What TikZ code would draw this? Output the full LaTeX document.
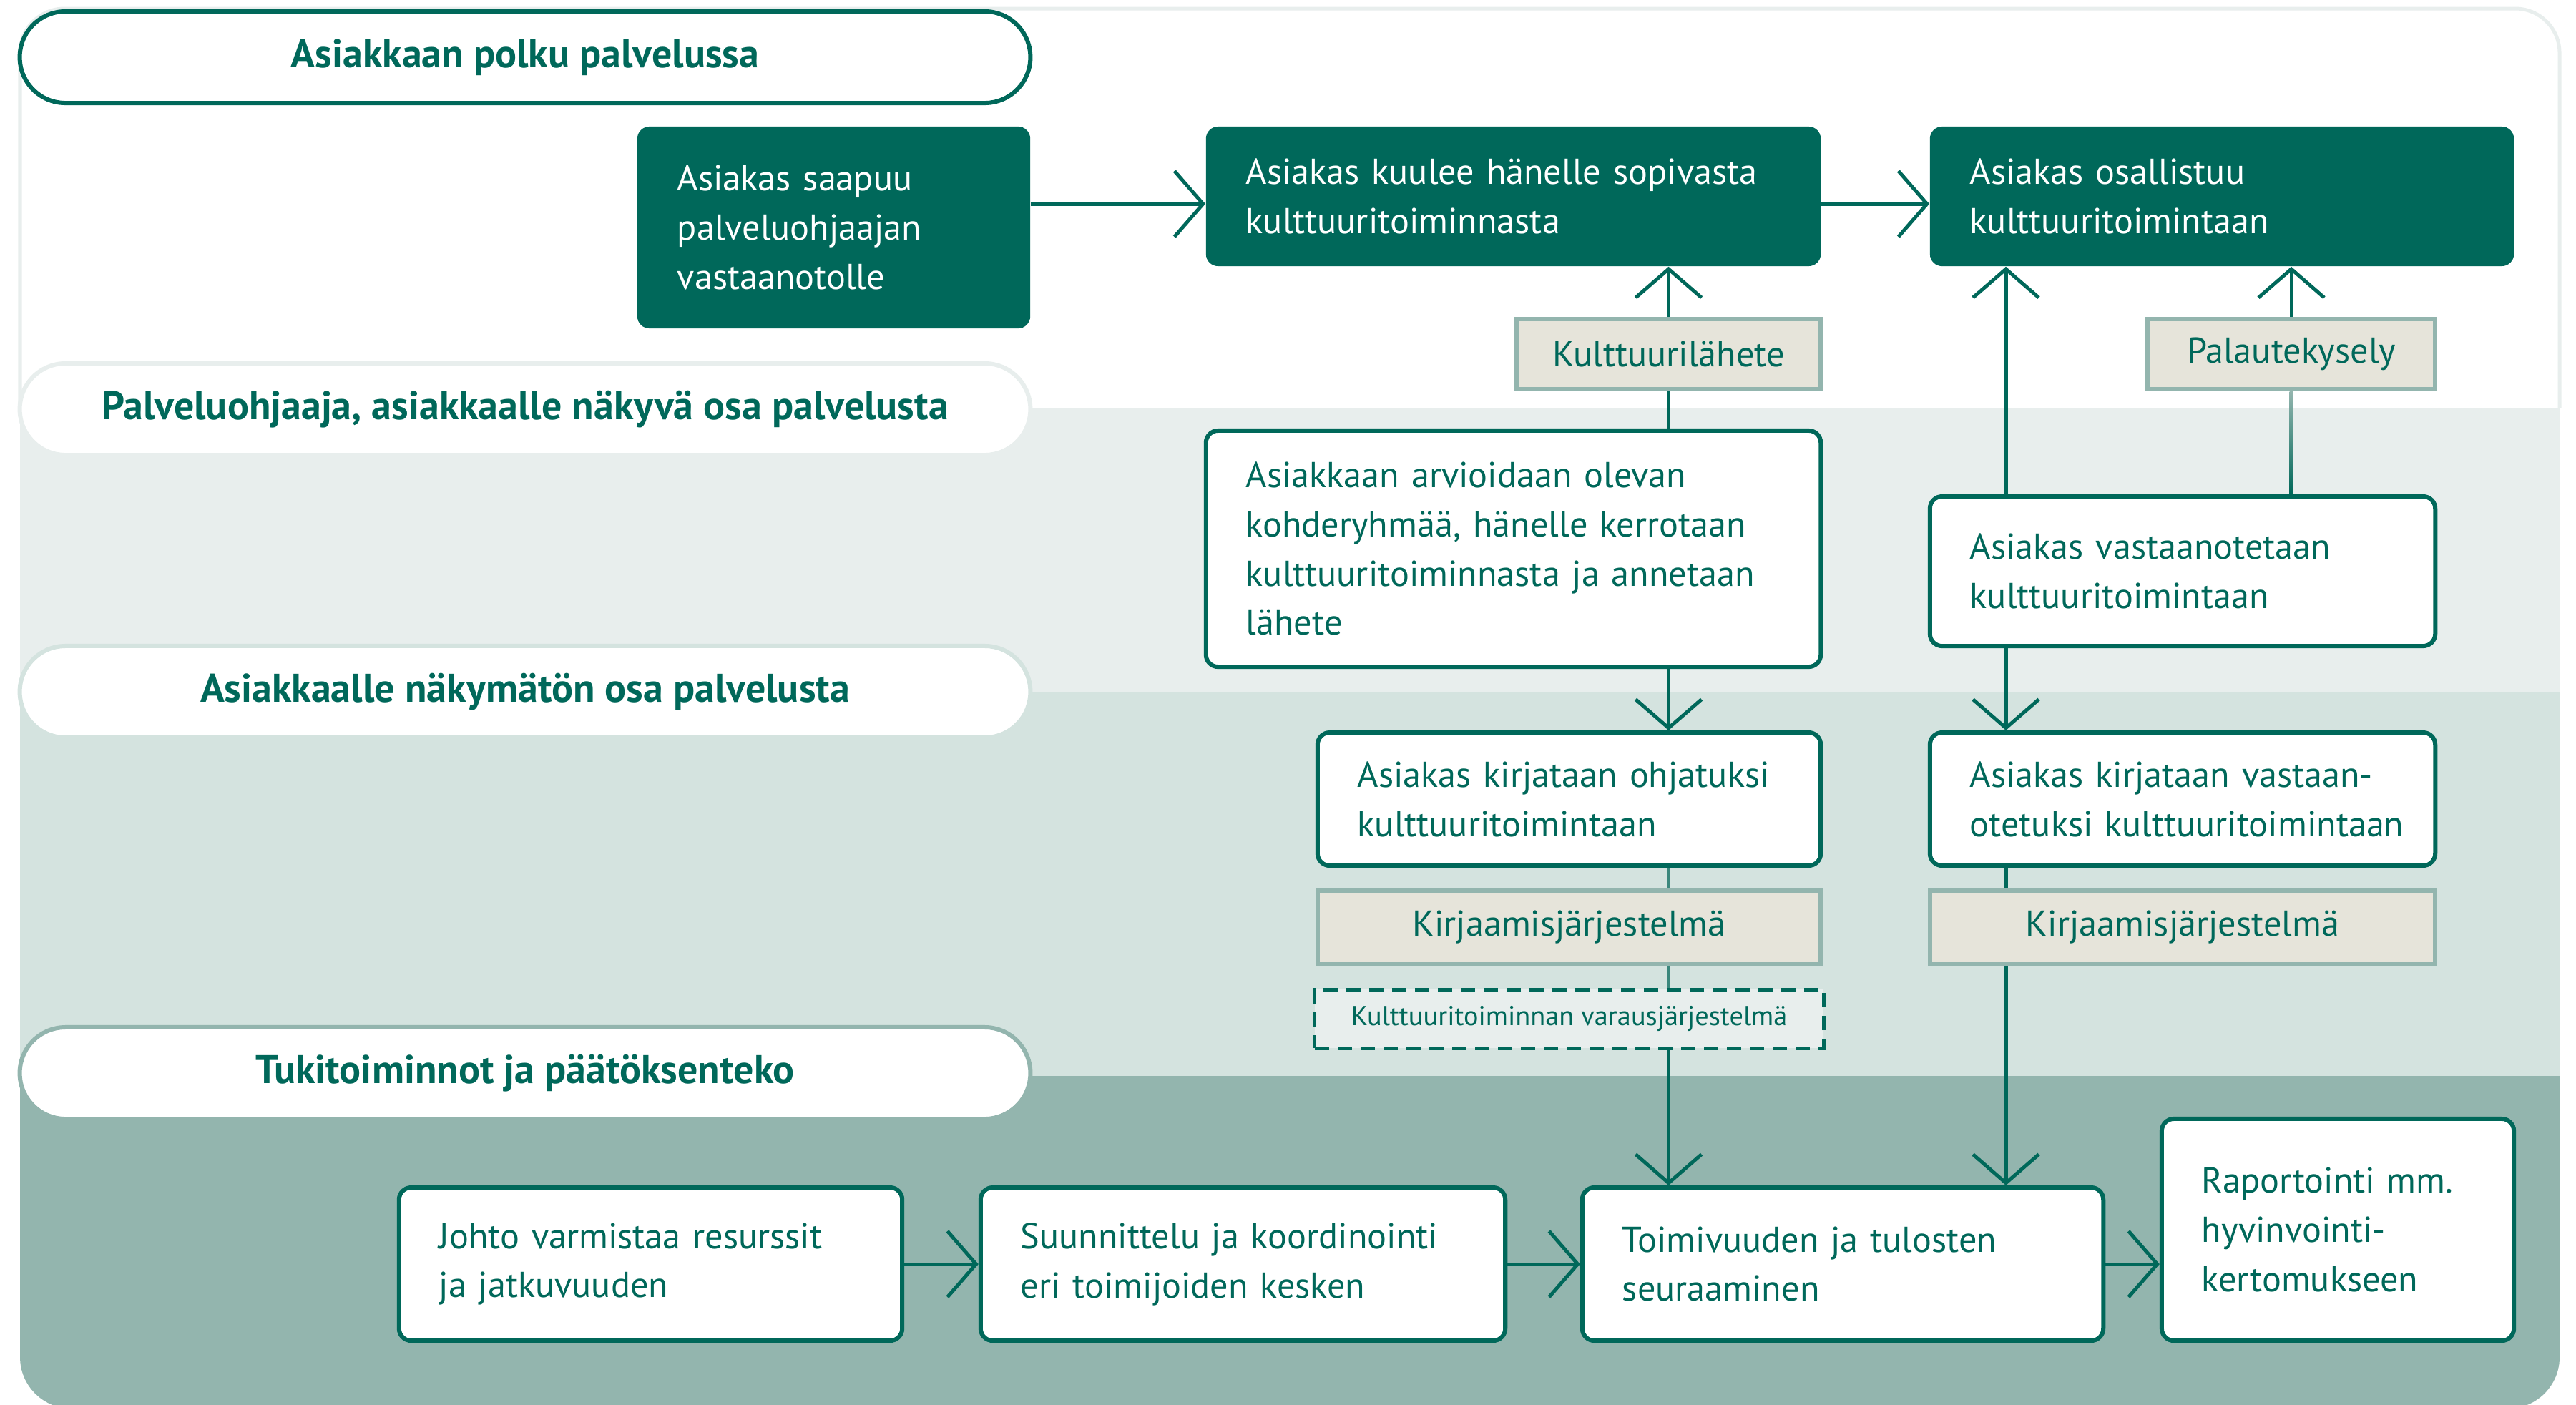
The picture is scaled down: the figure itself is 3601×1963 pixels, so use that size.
\documentclass[tikz,border=0pt]{standalone}
\usepackage{fontspec}
\setmainfont{PT Sans}
\usetikzlibrary{arrows.meta,shapes.misc}
\definecolor{dk}{HTML}{00685A}
\definecolor{bandA}{HTML}{E8EEED}
\definecolor{bandB}{HTML}{D4E3DF}
\definecolor{bandC}{HTML}{93B5AE}
\definecolor{beige}{HTML}{E6E4DA}
\newcommand\bodyf{\fontsize{14.3}{19.6}\selectfont}
\newcommand\headf{\bfseries\fontsize{15.9}{18}\selectfont}
\newcommand\smallf{\fontsize{10.9}{13}\selectfont}
\begin{document}
\begin{tikzpicture}[x=0.01cm,y=-0.01cm,
  darkbox/.style={fill=dk,text=white,rounded corners=0.17cm,inner xsep=0.56cm,inner ysep=0pt,align=left,font=\bodyf},
  wbox/.style={draw=dk,line width=0.06cm,fill=white,text=dk,rounded corners=0.17cm,inner xsep=0.56cm,inner ysep=0pt,align=left,font=\bodyf},
  lbl/.style={draw=bandC,line width=0.06cm,fill=beige,text=dk,inner sep=0pt,align=center,font=\bodyf},
  dsh/.style={draw=dk,dash pattern=on 0.2cm off 0.12cm,line width=0.05cm,fill=bandA,text=dk,inner sep=0pt,align=center,font=\smallf},
  pill/.style={rounded rectangle,minimum width=14.12cm,minimum height=1.28cm,line width=0.06cm,fill=white,text=dk,font=\headf,inner sep=0pt},
  conn/.style={draw=dk,line width=0.05cm},
  arr/.style={conn,-{Straight Barb[length=0.4cm,width=0.92cm]}}
]
\useasboundingbox (0,0) rectangle (3601,1963);
% background panel
\path[fill=white] (28,1000) [rounded corners=0.62cm] -- (28,12) -- (3578,12) -- (3578,1000) [rounded corners=0.72cm] -- (3578,1969) -- (28,1969) -- cycle;
\begin{scope}
\clip (28,1000) [rounded corners=0.62cm] -- (28,12) -- (3578,12) -- (3578,1000) [rounded corners=0.72cm] -- (3578,1969) -- (28,1969) -- cycle;
\fill[bandA] (0,570) rectangle (3601,968);
\fill[bandB] (0,968) rectangle (3601,1504);
\fill[bandC] (0,1504) rectangle (3601,2000);
\end{scope}
\draw[bandA,line width=0.05cm] (28,570) [rounded corners=0.62cm] -- (28,12) -- (3578,12) [sharp corners] -- (3578,570);

% lane labels
\node[pill,draw=dk] (p1) at (734,80) {Asiakkaan polku palvelussa};
\node[pill,draw=bandA] (p2) at (734,572) {Palveluohjaaja, asiakkaalle näkyvä osa palvelusta};
\node[pill,draw=bandB] (p3) at (734,967) {Asiakkaalle näkymätön osa palvelusta};
\node[pill,draw=bandC] (p4) at (734,1500) {Tukitoiminnot ja päätöksenteko};

% customer path
\node[darkbox,text width=4.37cm,minimum height=2.82cm] (A) at (1165.5,318) {Asiakas saapuu\\palveluohjaajan\\vastaanotolle};
\node[darkbox,text width=7.47cm,minimum height=1.95cm] (B) at (2115.5,274.5) {Asiakas kuulee hänelle sopivasta\\kulttuuritoiminnasta};
\node[darkbox,text width=7.04cm,minimum height=1.95cm] (C) at (3106,274.5) {Asiakas osallistuu\\kulttuuritoimintaan};

\node[lbl,minimum width=4.25cm,minimum height=0.98cm] (lah) at (2332.5,495) {Kulttuurilähete};
\node[lbl,minimum width=4.02cm,minimum height=0.98cm] (pal) at (3203,495) {Palautekysely};

% visible part
\node[wbox,text width=7.47cm,minimum height=3.30cm] (arv) at (2115.5,767) {Asiakkaan arvioidaan olevan\\kohderyhmää, hänelle kerrotaan\\\mbox{kulttuuritoiminnasta ja annetaan}\\lähete};
\node[wbox,text width=5.94cm,minimum height=2.09cm] (vas) at (3051,798.5) {Asiakas vastaanotetaan\\kulttuuritoimintaan};

% invisible part
\node[wbox,text width=5.91cm,minimum height=1.86cm] (ohj) at (2193.5,1117) {Asiakas kirjataan ohjatuksi\\kulttuuritoimintaan};
\node[wbox,text width=5.94cm,minimum height=1.86cm] (kv) at (3051,1117) {\mbox{Asiakas kirjataan vastaan-}\\\mbox{otetuksi kulttuuritoimintaan}};
\node[lbl,minimum width=7.03cm,minimum height=1.03cm] (kl) at (2193.5,1296.5) {Kirjaamisjärjestelmä};
\node[lbl,minimum width=7.06cm,minimum height=1.03cm] (kr) at (3051,1296.5) {Kirjaamisjärjestelmä};
\node[dsh,minimum width=7.11cm,minimum height=0.82cm] (var) at (2193.5,1424) {Kulttuuritoiminnan varausjärjestelmä};

% support
\node[wbox,text width=5.91cm,minimum height=2.14cm] (joh) at (909.5,1767) {Johto varmistaa resurssit\\ja jatkuvuuden};
\node[wbox,text width=6.21cm,minimum height=2.14cm] (suu) at (1737.5,1767) {Suunnittelu ja koordinointi\\eri toimijoiden kesken};
\node[wbox,text width=6.16cm,minimum height=2.14cm] (toi) at (2576,1767) {Toimivuuden ja tulosten\\seuraaminen};
\node[wbox,text width=3.80cm,minimum height=3.10cm] (rap) at (3268,1719) {Raportointi mm.\\hyvinvointi-\\kertomukseen};

\coordinate (cx) at (2804,0);
\coordinate (ay) at (0,285);

% connectors
\draw[arr] (A.east |- ay) -- (B.west |- ay);
\draw[arr] (B.east |- ay) -- (C.west |- ay);
\draw[conn] (arv.north -| lah.south) -- (lah.south);
\draw[arr] (lah.north) -- (lah.north |- B.south);
\draw[arr] (vas.north -| cx) -- (C.south -| cx);
\shade[top color=bandC,bottom color=dk] ([xshift=-0.025cm]pal.south) rectangle ([xshift=0.025cm]vas.north -| pal.south);
\draw[arr] (pal.north) -- (pal.north |- C.south);
\draw[arr] (arv.south -| lah.south) -- (ohj.north -| lah.south);
\draw[arr] (vas.south -| cx) -- (kv.north -| cx);
\draw[conn,draw=dk!60!bandC] (ohj.south -| lah.south) -- (kl.north -| lah.south);
\draw[conn,draw=dk!60!bandC] (kl.south -| lah.south) -- (var.north -| lah.south);
\draw[arr] (var.south -| lah.south) -- (toi.north -| lah.south);
\draw[conn] (kv.south -| cx) -- (kr.north -| cx);
\draw[arr] (kr.south -| cx) -- (toi.north -| cx);
\draw[arr] (joh.east) -- (suu.west);
\draw[arr] (suu.east) -- (toi.west);
\draw[arr] (toi.east) -- (rap.west |- toi.east);
\end{tikzpicture}
\end{document}
